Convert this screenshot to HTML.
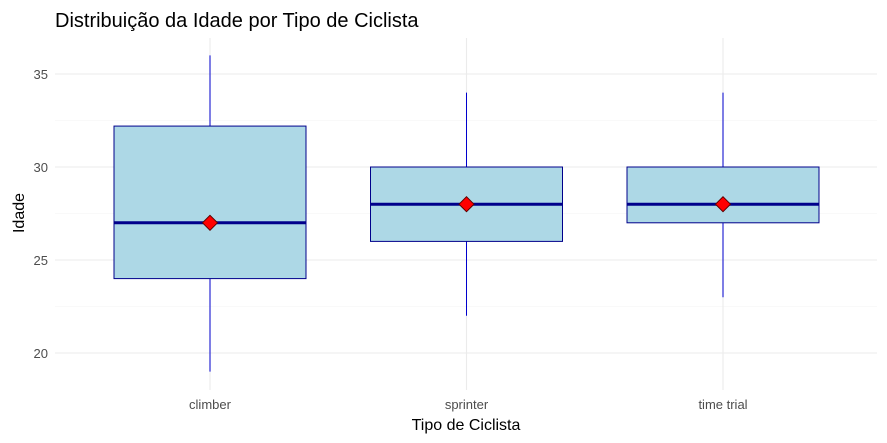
<!DOCTYPE html>
<html><head><meta charset="utf-8"><style>
body{margin:0;background:#fff;}
svg{display:block;font-family:"Liberation Sans",sans-serif;}
</style></head><body>
<svg id="chart" width="887" height="443">
<text x="55" y="27" font-size="20" fill="#000">Distribuição da Idade por Tipo de Ciclista</text>
<g id="grid"></g><g id="marks"></g><g id="axes"></g>
<text x="466" y="430" font-size="16" text-anchor="middle" fill="#000">Tipo de Ciclista</text>
<text transform="translate(24,213) rotate(-90)" font-size="16" text-anchor="middle" fill="#000">Idade</text>
</svg>
<script>
const categories=["climber","sprinter","time trial"];
const whiskerLow=[19,22,23];
const q1=[24,26,27];
const medians=[27,28,28];
const q3=[32.2,30,30];
const whiskerHigh=[36,34,34];
const means=[27,28,28];
const yTicks=[20,25,30,35];
const NS="http://www.w3.org/2000/svg";
const plotL=55,plotR=877,plotT=38,plotB=390;
function y(v){return 353-(v-20)*18.6;}
function x(i){return 210+i*256.5;}
const bw=192;
function mk(tag,attrs,parent){const e=document.createElementNS(NS,tag);for(const k in attrs)e.setAttribute(k,attrs[k]);document.getElementById(parent).appendChild(e);return e;}
// grid
for(let v=17.5;v<=37.5;v+=2.5){
 const yy=y(v); if(yy<plotT||yy>plotB) continue;
 const major=v%5===0;
 const l=mk('line',{x1:plotL,x2:plotR,y1:yy,y2:yy,stroke:major?'#EBEBEB':'#F4F4F4','stroke-width':major?1.1:0.6},'grid');
 
 
}
categories.forEach((c,i)=>{
 const l=mk('line',{x1:x(i),x2:x(i),y1:plotT,y2:plotB,stroke:'#EBEBEB','stroke-width':1.1},'grid');
 
 
});
yTicks.forEach(v=>{
 const t=mk('text',{x:48,y:y(v)+5,'font-size':13,'text-anchor':'end',fill:'#4D4D4D'},'axes');
 t.textContent=v;
 
 
});
categories.forEach((c,i)=>{
 const t=mk('text',{x:x(i),y:409,'font-size':13,'text-anchor':'middle',fill:'#4D4D4D'},'axes');
 t.textContent=c;
 
 
 const w1=mk('line',{x1:x(i),x2:x(i),y1:y(whiskerHigh[i]),y2:y(q3[i]),stroke:'#0000CD','stroke-width':1},'marks');
 
 
 const w2=mk('line',{x1:x(i),x2:x(i),y1:y(q1[i]),y2:y(whiskerLow[i]),stroke:'#0000CD','stroke-width':1},'marks');
 
 
 const r=mk('rect',{x:x(i)-bw/2,y:y(q3[i]),width:bw,height:y(q1[i])-y(q3[i]),fill:'#ADD8E6',stroke:'#00008B','stroke-width':1},'marks');
 
 
 const m=mk('line',{x1:x(i)-bw/2,x2:x(i)+bw/2,y1:y(medians[i]),y2:y(medians[i]),stroke:'#00008B','stroke-width':3},'marks');
 
 
 const cx=x(i),cy=y(means[i]),s=7.5;
 const d=mk('polygon',{points:`${cx},${cy-s} ${cx+s},${cy} ${cx},${cy+s} ${cx-s},${cy}`,fill:'#FF0000',stroke:'#5a0000','stroke-width':1},'marks');
 
 
});
</script>
</body></html>
